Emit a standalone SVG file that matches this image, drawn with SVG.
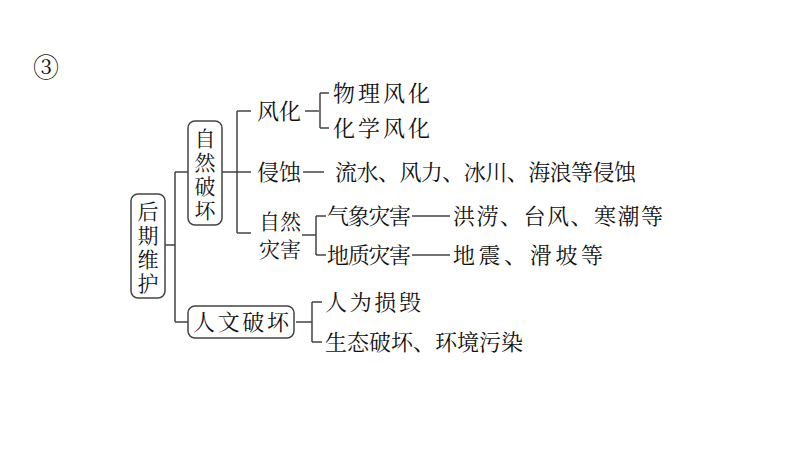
<svg xmlns="http://www.w3.org/2000/svg" width="800" height="450" viewBox="0 0 800 450">
<style>
text{font-family:"Noto Serif CJK SC","Noto Sans CJK SC",serif;font-size:22px;fill:#111}
.v{font-size:21px}
.b{fill:#fff;stroke:#444;stroke-width:1.5}
.c{fill:none;stroke:#444;stroke-width:1.5}
</style>
<rect width="800" height="450" fill="#fff"/>
<text x="33" y="77" style="font-size:26px">③</text>
<g id="connectors">
<path class="c" d="M165,245H175M175,172V322M175,172H188M175,322H188"/>
<path class="c" d="M222,172H237M237,111V233M237,111H251M237,172H251M237,233H251"/>
<path class="c" d="M305,111H319M320,93V128M320,93H329M320,128H329"/>
<path class="c" d="M303,172H324"/>
<path class="c" d="M302,235H316M316,216V255M316,216H326M316,255H326"/>
<path class="c" d="M412,216H450M412,255H450"/>
<path class="c" d="M296,322H312M312,302V342M312,302H322M312,342H322"/>
</g>
<g id="n1"><rect class="b" x="131" y="194" width="34" height="104" rx="7"/>
<text class="v" x="148" y="219" text-anchor="middle">后</text><text class="v" x="148" y="243" text-anchor="middle">期</text><text class="v" x="148" y="267" text-anchor="middle">维</text><text class="v" x="148" y="291" text-anchor="middle">护</text></g>
<g id="n2"><rect class="b" x="188" y="121" width="34" height="104" rx="7"/>
<text class="v" x="205" y="146" text-anchor="middle">自</text><text class="v" x="205" y="170" text-anchor="middle">然</text><text class="v" x="205" y="194" text-anchor="middle">破</text><text class="v" x="205" y="218" text-anchor="middle">坏</text></g>
<g id="n3"><rect class="b" x="188" y="306" width="106" height="32" rx="7"/>
<text x="193" y="330" textLength="96">人文破坏</text></g>
<g id="n4"><text x="257" y="119" textLength="44">风化</text></g>
<g id="n5"><text x="257" y="180" textLength="44">侵蚀</text></g>
<g id="n6"><text class="v" x="259" y="229" textLength="42">自然</text><text class="v" x="259" y="257" textLength="42">灾害</text></g>
<g id="n7"><text x="333" y="101" textLength="97">物理风化</text></g>
<g id="n8"><text x="333" y="136" textLength="97">化学风化</text></g>
<g id="n9"><text x="335" y="180" textLength="301">流水、风力、冰川、海浪等侵蚀</text></g>
<g id="n10"><text x="327" y="224" textLength="84">气象灾害</text><text x="453" y="224" textLength="210">洪涝、台风、寒潮等</text></g>
<g id="n11"><text x="327" y="263" textLength="84">地质灾害</text><text x="453" y="263" textLength="150">地震、滑坡等</text></g>
<g id="n12"><text x="325" y="310" textLength="96">人为损毁</text></g>
<g id="n13"><text x="325" y="350" textLength="198">生态破坏、环境污染</text></g>
</svg>
